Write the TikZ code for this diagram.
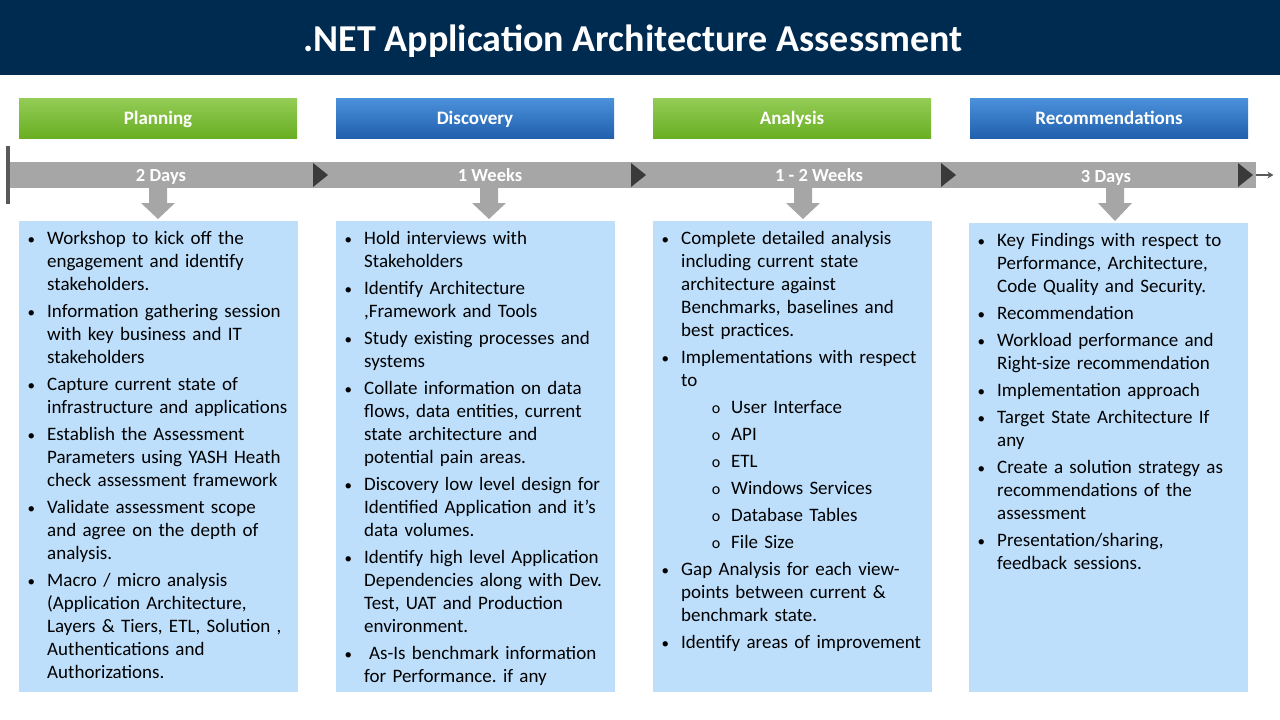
\documentclass[tikz,border=0pt]{standalone}
\usepackage{fontspec}
\setmainfont{Carlito}
\usepackage{enumitem}
\usetikzlibrary{arrows.meta, positioning, calc}
\definecolor{navy}{HTML}{002B51}
\definecolor{greentop}{HTML}{93CC57}
\definecolor{greenbot}{HTML}{6AAF22}
\definecolor{bluetop}{HTML}{4C91DB}
\definecolor{bluebot}{HTML}{2060AE}
\definecolor{tlgray}{HTML}{A6A6A6}
\definecolor{tridark}{HTML}{3A3A3A}
\definecolor{edgegray}{HTML}{595959}
\definecolor{paleblue}{HTML}{BDDFFB}

\frenchspacing
\newlist{steps}{itemize}{2}
\setlist[steps,1]{label={\fontsize{15}{15}\selectfont\textbullet}, leftmargin=28pt, labelsep=12pt, topsep=0pt, partopsep=0pt, parsep=0pt, itemsep=4pt}
\setlist[steps,2]{label={\fontsize{16}{16}\selectfont o}, leftmargin=50pt, labelsep=11pt, topsep=4pt, partopsep=0pt, parsep=0pt, itemsep=4pt}

\begin{document}
\begin{tikzpicture}[x=1pt, y=-1pt,
    hdr/.style={minimum width=278pt, minimum height=40pt, inner sep=0pt, text height=14pt, text depth=2pt, text=white, font=\fontsize{19}{22}\selectfont\bfseries},
    greenhdr/.style={hdr, top color=greentop, bottom color=greenbot},
    bluehdr/.style={hdr, top color=bluetop, bottom color=bluebot},
    dur/.style={text=white, text height=14pt, text depth=2pt, font=\fontsize{18.5}{22}\selectfont\bfseries, inner sep=0pt},
    phasebox/.style={fill=paleblue, minimum width=279pt, minimum height=471pt, inner sep=0pt, anchor=north west},
    listtxt/.style={anchor=north west, inner sep=0pt, text width=270pt, align=left, font=\fontsize{19}{23}\selectfont}]
    \useasboundingbox (0,0) rectangle (1280,720);

    % Title
    \fill[navy] (0,0) rectangle (1280,75);
    \node[text=white, font=\fontsize{38}{44}\selectfont\bfseries] (title) at (633,41) {.NET Application Architecture Assessment};

    % Phase headers
    \node[greenhdr] (hplan) at (158,118) {Planning};
    \node[bluehdr] (hdisc) at (475,118) {Discovery};
    \node[greenhdr] (hanal) at (792,118) {Analysis};
    \node[bluehdr] (hreco) at (1109,118) {Recommendations};

    % Timeline
    \node[fill=tlgray, minimum width=1248pt, minimum height=26pt, inner sep=0pt, anchor=west] (bar) at (8,175) {};
    \draw[line width=3.5pt, edgegray] (8,146) -- (8,204);
    \foreach \x in {313, 631, 941, 1238}
        \fill[tridark] (\x,163) -- (\x+15,175) -- (\x,187) -- cycle;
    \coordinate (tlend) at ($(bar.east)+(17,0)$);
    \draw[-{Stealth[length=6pt, width=7pt]}, line width=2pt, edgegray] (bar.east) -- (tlend);

    \node[dur] (dplan) at (161,175) {2 Days};
    \node[dur] (ddisc) at (490,175) {1 Weeks};
    \node[dur] (danal) at (819,175) {1 - 2 Weeks};
    \node[dur] (dreco) at (1106,176) {3 Days};

    % Boxes
    \node[phasebox] (bplan) at (19,221) {};
    \node[phasebox] (bdisc) at (336,221) {};
    \node[phasebox] (banal) at (653,221) {};
    \node[phasebox, minimum height=469pt] (breco) at (969,223) {};

    % Down arrows
    \foreach \x/\b in {158/bplan, 489/bdisc, 803/banal, 1115/breco}
        \fill[tlgray] (\x-9,0 |- bar.south) -- (\x+9,0 |- bar.south) -- (\x+9,203)
            -- (\x+17,203) -- ($(\x,0 |- \b.north)+(0,-2)$) -- (\x-17,203) -- (\x-9,203) -- cycle;

    % Box texts
    \node[listtxt] (tplan) at (bplan.north west) {%
    \begin{steps}
    \item Workshop to kick off the\\ engagement and identify\\ stakeholders.
    \item Information gathering session\\ with key business and IT\\ stakeholders
    \item Capture current state of\\ infrastructure and applications
    \item Establish the Assessment\\ Parameters using YASH Heath\\ check assessment framework
    \item Validate assessment scope\\ and agree on the depth of\\ analysis.
    \item Macro / micro analysis\\ (Application Architecture,\\ Layers \& Tiers, ETL, Solution ,\\ Authentications and\\ Authorizations.
    \end{steps}};

    \node[listtxt] (tdisc) at (bdisc.north west) {%
    \begin{steps}
    \item Hold interviews with\\ Stakeholders
    \item Identify Architecture\\ ,Framework and Tools
    \item Study existing processes and\\ systems
    \item Collate information on data\\ flows, data entities, current\\ state architecture and\\ potential pain areas.
    \item Discovery low level design for\\ Identified Application and it’s\\ data volumes.
    \item Identify high level Application\\ Dependencies along with Dev.\\ Test, UAT and Production\\ environment.
    \item \hspace*{5pt}As-Is benchmark information\\ for Performance. if any
    \end{steps}};

    \node[listtxt] (tanal) at (banal.north west) {%
    \begin{steps}
    \item Complete detailed analysis\\ including current state\\ architecture against\\ Benchmarks, baselines and\\ best practices.
    \item Implementations with respect\\ to
        \begin{steps}
        \item User Interface
        \item API
        \item ETL
        \item Windows Services
        \item Database Tables
        \item File Size
        \end{steps}
    \item Gap Analysis for each view-\\ points between current \&\\ benchmark state.
    \item Identify areas of improvement
    \end{steps}};

    \node[listtxt] (treco) at (breco.north west) {%
    \begin{steps}
    \item Key Findings with respect to\\ Performance, Architecture,\\ Code Quality and Security.
    \item Recommendation
    \item Workload performance and\\ Right-size recommendation
    \item Implementation approach
    \item Target State Architecture If\\ any
    \item Create a solution strategy as\\ recommendations of the\\ assessment
    \item Presentation/sharing,\\ feedback sessions.
    \end{steps}};
\end{tikzpicture}
\end{document}
